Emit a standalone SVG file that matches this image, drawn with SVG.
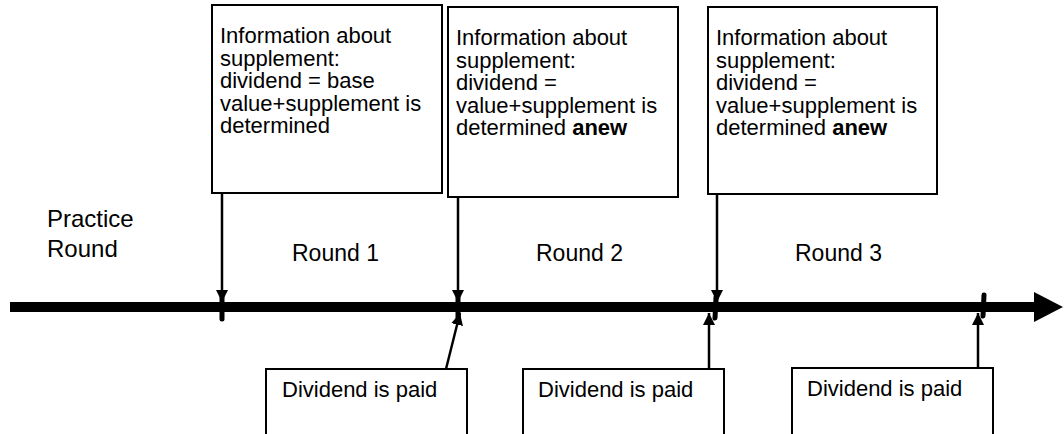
<svg xmlns="http://www.w3.org/2000/svg" width="1064" height="434" viewBox="0 0 1064 434">
<style>
.box{fill:#fff;stroke:#000;stroke-width:2}
.t{font-family:"Liberation Sans",Arial,sans-serif;font-size:22px;fill:#000}
.lg{font-size:23px}
.pr{font-size:24px}
.b{font-weight:bold}
.c{stroke:#000;stroke-width:2.5;fill:none}
.tick{stroke:#000;stroke-width:5;stroke-linecap:round}
</style>
<defs>
<marker id="ah" viewBox="0 0 10 10" refX="10" refY="5" markerWidth="12" markerHeight="12" markerUnits="userSpaceOnUse" orient="auto">
<path d="M0,0 L10,5 L0,10 z" fill="#000"/>
</marker>
</defs>
<g id="timeline">
<line x1="10" y1="307" x2="1036" y2="307" stroke="#000" stroke-width="10"/>
<path d="M1034,292 L1063,307 L1034,322 z" fill="#000"/>
<line class="tick" x1="222" y1="297" x2="222" y2="319"/>
<line class="tick" x1="458" y1="297" x2="458" y2="318"/>
<line class="tick" x1="716" y1="297" x2="715" y2="318"/>
<line class="tick" x1="984" y1="295" x2="983" y2="316"/>
</g>
<g id="label-practice">
<text class="t pr" x="47" y="227">Practice</text>
<text class="t pr" x="47" y="257">Round</text>
</g>
<g id="label-round1"><text class="t lg" x="292" y="261">Round 1</text></g>
<g id="label-round2"><text class="t lg" x="536" y="261">Round 2</text></g>
<g id="label-round3"><text class="t lg" x="795" y="261">Round 3</text></g>
<g id="info1">
<rect class="box" x="212" y="5" width="230" height="188"/>
<text class="t" x="220" y="43">Information about</text>
<text class="t" x="220" y="65.5">supplement:</text>
<text class="t" x="220" y="88">dividend = base</text>
<text class="t" x="220" y="110.5">value+supplement is</text>
<text class="t" x="220" y="133">determined</text>
</g>
<g id="info2">
<rect class="box" x="448" y="7" width="230" height="190"/>
<text class="t" x="456" y="45">Information about</text>
<text class="t" x="456" y="67.5">supplement:</text>
<text class="t" x="456" y="90">dividend =</text>
<text class="t" x="456" y="112.5">value+supplement is</text>
<text class="t" x="456" y="135">determined <tspan class="b">anew</tspan></text>
</g>
<g id="info3">
<rect class="box" x="708" y="7" width="229" height="187"/>
<text class="t" x="716" y="45">Information about</text>
<text class="t" x="716" y="67.5">supplement:</text>
<text class="t" x="716" y="90">dividend =</text>
<text class="t" x="716" y="112.5">value+supplement is</text>
<text class="t" x="716" y="135">determined <tspan class="b">anew</tspan></text>
</g>
<g id="paid1">
<rect class="box" x="266" y="369" width="201" height="80"/>
<text class="t" x="282" y="397">Dividend is paid</text>
</g>
<g id="paid2">
<rect class="box" x="523" y="369" width="201" height="80"/>
<text class="t" x="538" y="397">Dividend is paid</text>
</g>
<g id="paid3">
<rect class="box" x="792" y="368" width="201" height="80"/>
<text class="t" x="807" y="396">Dividend is paid</text>
</g>
<g id="connectors">
<line class="c" x1="222" y1="193" x2="222" y2="302" marker-end="url(#ah)"/>
<line class="c" x1="458" y1="197" x2="458" y2="302" marker-end="url(#ah)"/>
<line class="c" x1="717" y1="194" x2="717" y2="302" marker-end="url(#ah)"/>
<line class="c" x1="446" y1="369" x2="460" y2="313" marker-end="url(#ah)"/>
<line class="c" x1="709" y1="369" x2="709" y2="313" marker-end="url(#ah)"/>
<line class="c" x1="978" y1="368" x2="978" y2="313" marker-end="url(#ah)"/>
</g>
</svg>
